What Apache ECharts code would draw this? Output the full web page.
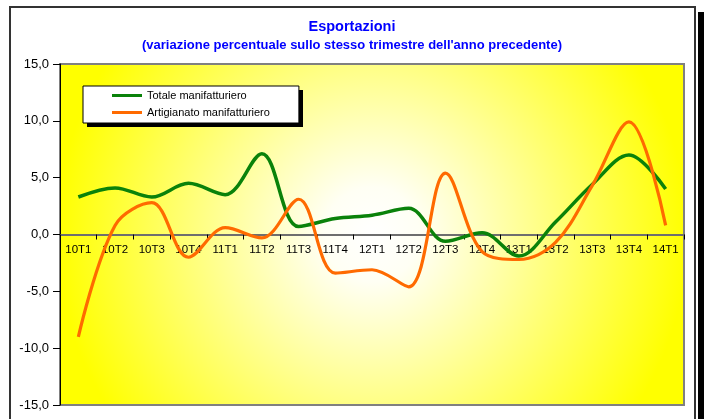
<!DOCTYPE html>
<html>
<head>
<meta charset="utf-8">
<title>Esportazioni</title>
<script src="https://cdn.jsdelivr.net/npm/echarts@6/dist/echarts.min.js"></script>
<style>
    html,body{margin:0;padding:0;background:#fff;}
    #chart{width:704px;height:419px;}
</style>
</head>
<body>
<div id="chart"></div>
<script>
// trimestri
const categories=['10T1','10T2','10T3','10T4','11T1','11T2','11T3','11T4','12T1','12T2','12T3','12T4','13T1','13T2','13T3','13T4','14T1'];
// variazione % sullo stesso trimestre dell'anno precedente
const totaleManif=[3.3, 4.1, 3.3, 4.5, 3.5, 7.1, 0.7, 1.4, 1.7, 2.3, -0.6, 0.15, -1.9, 1.1, 4.4, 7.0, 4.0];
const artigianatoManif=[-9.0, 0.8, 2.8, -2.0, 0.6, -0.3, 3.1, -3.4, -3.1, -4.6, 5.4, -1.5, -2.2, -0.7, 4.3, 9.9, 0.8];
const yTicks=[-15, -10, -5, 0, 5, 10, 15];

const seriesNames=['Totale manifatturiero','Artigianato manifatturiero'];
const green='#0a820a';
const orange='#ff6a00';
const fontFam='Arial, "Liberation Sans", sans-serif';

const W=704, H=419;
const gridPos={left:60, right:20, top:64, bottom:14};
const yMin=yTicks[0], yMax=yTicks[yTicks.length-1];
// l'asse x sta sullo zero: spostamento rispetto al fondo del grafico
const gridH=H-gridPos.top-gridPos.bottom;
const xAxisOffset=-gridH*(0-yMin)/(yMax-yMin);

const chart=echarts.init(document.getElementById('chart'));

const fmt=(v)=>v.toFixed(1).replace('.',',');

chart.setOption({
    animation:false,
    backgroundColor:'#ffffff',
    title:{
        text:'Esportazioni',
        subtext:"(variazione percentuale sullo stesso trimestre dell'anno precedente)",
        left:'center',
        top:19,
        itemGap:3,
        padding:0,
        textStyle:{color:'#0000ff', fontSize:14.5, fontWeight:'bold', fontFamily:fontFam, lineHeight:16},
        subtextStyle:{color:'#0000ff', fontSize:13, fontWeight:'bold', fontFamily:fontFam, lineHeight:15},
    },
    //cornice esterna + ombre
    graphic:[
        {type:'rect', shape:{x:698, y:12, width:6, height:420}, style:{fill:'#000'}, z:-1},
        {type:'rect', shape:{x:10, y:7, width:685, height:430}, style:{fill:'none', stroke:'#333', lineWidth:2}, z:-1},
        //ombra legenda
        {type:'rect', shape:{x:87, y:90, width:216, height:37}, style:{fill:'#000'}, z:3},
    ],
    legend:{
        data:seriesNames,
        orient:'vertical',
        left:83,
        top:86,
        width:214,
        padding:[4,29,5,29],
        itemGap:6,
        itemWidth:30,
        itemHeight:3,
        itemTextGap:3,
        icon:'rect',
        backgroundColor:'#fff',
        borderColor:'#000',
        borderWidth:1,
        z:10,
        textStyle:{color:'#000', fontSize:11, fontFamily:fontFam},
    },
    grid:{
        left:gridPos.left, right:gridPos.right, top:gridPos.top, bottom:gridPos.bottom,
        containLabel:false,
        outerBoundsMode:'none',
        show:true,
        borderColor:'#808080',
        borderWidth:2,
        backgroundColor:new echarts.graphic.RadialGradient(0.5,0.5,0.92,[
            {offset:0, color:'#ffffff'},
            {offset:0.15, color:'#fffff4'},
            {offset:1, color:'#ffff00'},
        ]),
    },
    xAxis:{
        type:'category',
        data:categories,
        boundaryGap:true,
        position:'bottom',
        offset:xAxisOffset,
        axisLine:{onZero:false, lineStyle:{color:'#6e6e6e', width:2}},
        axisTick:{show:true, length:5, lineStyle:{color:'#000'}},
        axisLabel:{color:'#000', fontSize:11.5, fontFamily:fontFam, margin:9, interval:0},
        splitLine:{show:false},
    },
    yAxis:{
        type:'value',
        min:yMin,
        max:yMax,
        interval:5,
        axisLine:{show:true, onZero:false, lineStyle:{color:'#000', width:1}},
        axisTick:{show:true, length:7, lineStyle:{color:'#000'}},
        axisLabel:{color:'#000', fontSize:13, fontFamily:fontFam, margin:11, formatter:fmt},
        splitLine:{show:false},
    },
    series:[
        {
            name:seriesNames[0],
            type:'line',
            data:totaleManif,
            smooth:0.35,
            symbol:'none',
            color:green,
            lineStyle:{color:green, width:3.5},
            z:3,
        },
        {
            name:seriesNames[1],
            type:'line',
            data:artigianatoManif,
            smooth:0.35,
            symbol:'none',
            color:orange,
            lineStyle:{color:orange, width:3.2},
            z:4,
        },
    ],
});
</script>
</body>
</html>
